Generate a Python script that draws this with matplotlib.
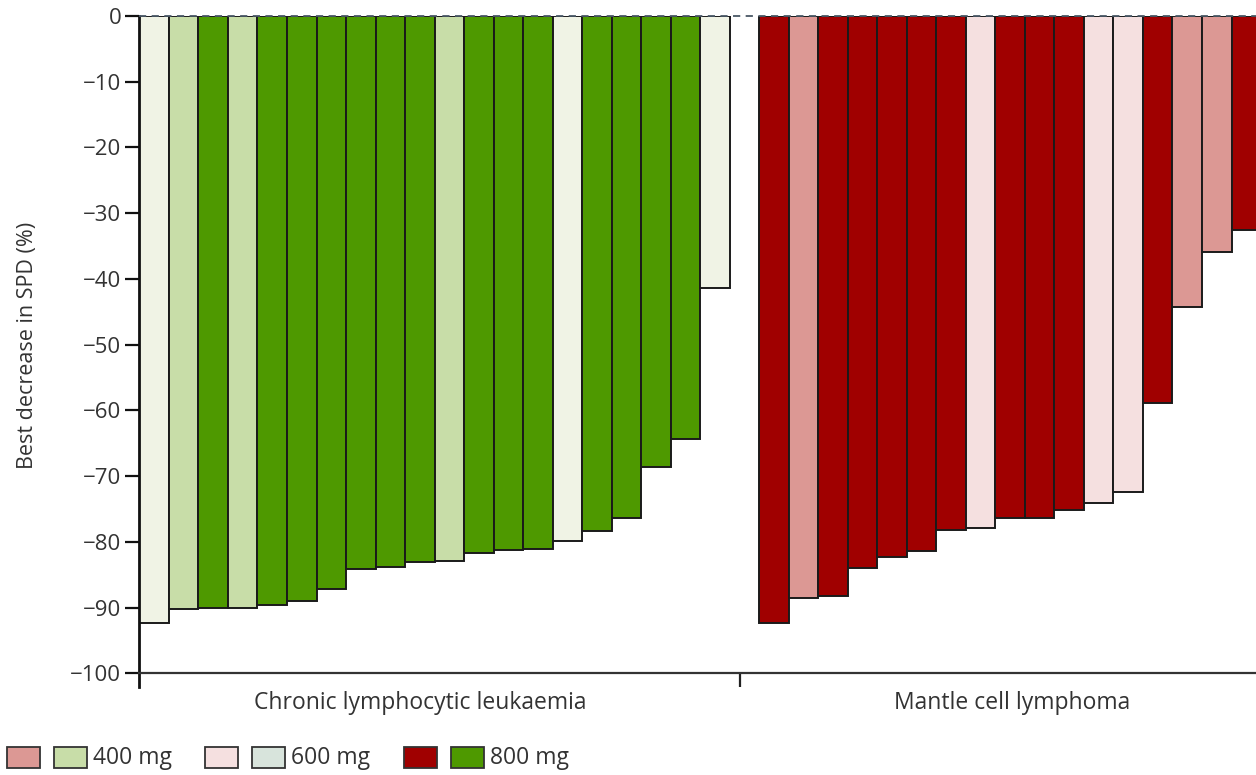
import numpy as np
import matplotlib
matplotlib.use('Agg')
import matplotlib.pyplot as plt
from matplotlib.patches import Rectangle

plt.rcParams['font.family'] = ['Open Sans', 'DejaVu Sans']

# Best decrease in SPD (%) per patient, waterfall order
cll_values = [-92.4, -90.3, -90.1, -90.0, -89.6, -89.0, -87.2, -84.2, -83.9, -83.1,
              -83.0, -81.7, -81.3, -81.1, -79.9, -78.4, -76.4, -68.6, -64.4, -41.4]
cll_dose = [600, 400, 800, 400, 800, 800, 800, 800, 800, 800,
            400, 800, 800, 800, 600, 800, 800, 800, 800, 600]

mcl_values = [-92.4, -88.6, -88.3, -84.0, -82.3, -81.4, -78.2, -77.9, -76.4, -76.4,
              -75.2, -74.1, -72.4, -58.9, -44.3, -35.9, -32.6]
mcl_dose = [800, 400, 800, 800, 800, 800, 800, 600, 800, 800,
            800, 600, 600, 800, 400, 400, 800]

groups = ['Chronic lymphocytic leukaemia', 'Mantle cell lymphoma']
doses = [400, 600, 800]
dose_labels = ['400 mg', '600 mg', '800 mg']

# colours per dose
cll_colors = {400: '#c8dda8', 600: '#f0f3e5', 800: '#4e9900'}
mcl_colors = {400: '#dc9894', 600: '#f5e0e0', 800: '#a00000'}
legend_green = {400: '#c8dda8', 600: '#d8e4dc', 800: '#4e9900'}

cll_x = np.arange(len(cll_values))
mcl_x = np.arange(len(mcl_values)) + len(cll_values) + 1

fig = plt.figure(figsize=(12.56, 7.75), dpi=100)
ax = fig.add_axes([0.111, 0.1135, 0.889, 0.8659])

edge = '#1a1a1a'
ax.bar(cll_x, cll_values, width=1.0, color=[cll_colors[d] for d in cll_dose],
       edgecolor=edge, linewidth=1.4, zorder=2)
ax.bar(mcl_x, mcl_values, width=1.0, color=[mcl_colors[d] for d in mcl_dose],
       edgecolor=edge, linewidth=1.4, zorder=2)

# dashed zero line across the top
ax.axhline(0, color='#4a5866', lw=1.3, ls=(0, (4, 3)), zorder=3, clip_on=False)

ax.set_xlim(-0.5, 37.33)
ax.set_ylim(-102.1, 0)

ax.spines['top'].set_visible(False)
ax.spines['right'].set_visible(False)
ax.spines['left'].set_linewidth(2.0)
ax.spines['left'].set_color('#111111')
ax.spines['bottom'].set_position(('data', -100))
ax.spines['bottom'].set_linewidth(1.6)
ax.spines['bottom'].set_color('#333333')

ax.set_yticks(np.arange(0, -101, -10))
ax.tick_params(axis='y', direction='out', length=10, width=1.6, color='#111111',
               labelsize=16, labelcolor='#333333', pad=3)

# separator tick between the two groups
ax.set_xticks([19.84])
ax.set_xticklabels([])
ax.tick_params(axis='x', direction='out', length=10, width=1.6, color='#222222')

ax.text(9.0, -104.6, groups[0], ha='center', va='center', fontsize=16.5,
        color='#333333', clip_on=False)
ax.text(29.07, -104.6, groups[1], ha='center', va='center', fontsize=16.5,
        color='#333333', clip_on=False)

fig.text(0.022, 1 - 345 / 775, 'Best decrease in SPD (%)', rotation=90,
         ha='center', va='center', fontsize=15.5, color='#333333')

# legend drawn by hand along the bottom
box_w, box_h = 33 / 1256, 21 / 775
legend_y = 1 - 768 / 775
starts = [7, 205, 404]
for i, d in enumerate(doses):
    x0 = starts[i] / 1256
    fig.patches.append(Rectangle((x0, legend_y), box_w, box_h, transform=fig.transFigure,
                                 facecolor=mcl_colors[d], edgecolor='#333333', lw=1.3))
    x1 = x0 + 47 / 1256
    fig.patches.append(Rectangle((x1, legend_y), box_w, box_h, transform=fig.transFigure,
                                 facecolor=legend_green[d], edgecolor='#333333', lw=1.3))
    fig.text(x1 + box_w + 6 / 1256, legend_y + box_h / 2, dose_labels[i],
             ha='left', va='center', fontsize=16.5, color='#333333')

fig.savefig('out.png', dpi=100)
